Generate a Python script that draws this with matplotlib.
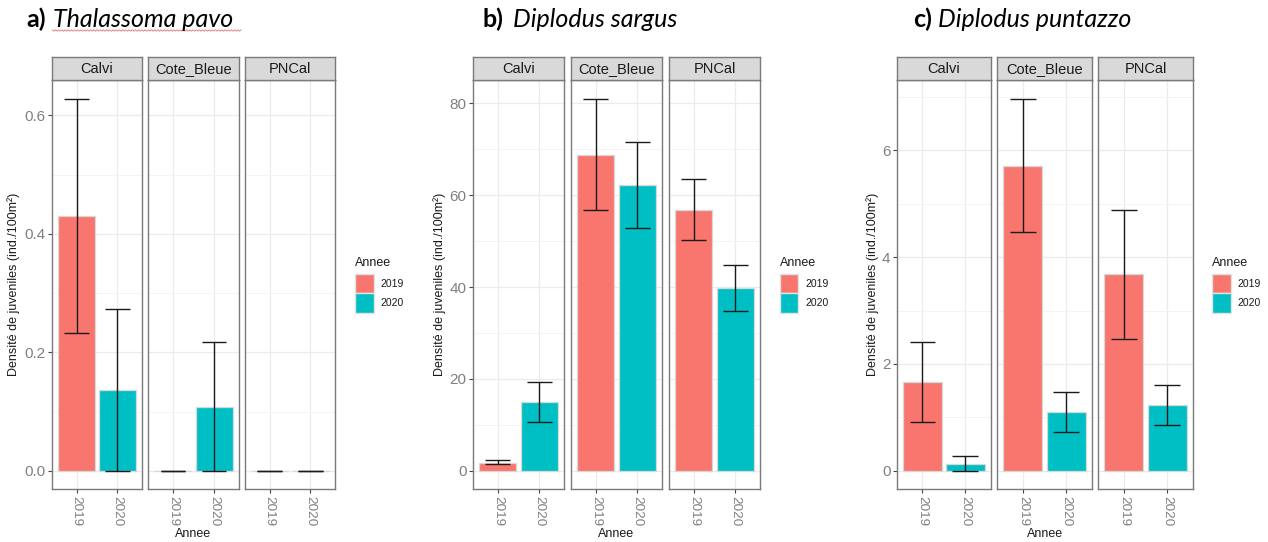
import numpy as np
import matplotlib
matplotlib.use("Agg")
import matplotlib.pyplot as plt
from matplotlib.patches import Rectangle

W, H, DPI = 1268, 542, 100

sites = ["Calvi", "Cote_Bleue", "PNCal"]
years = ["2019", "2020"]
year_colors = ["#F8766D", "#00BFC4"]

# Mean juvenile density (rows: site, columns: year) and error bar bounds
pavo_mean = [[0.430, 0.136], [0.0, 0.108], [0.0, 0.0]]
pavo_lo = [[0.233, 0.0], [0.0, 0.0], [0.0, 0.0]]
pavo_hi = [[0.628, 0.273], [0.0, 0.217], [0.0, 0.0]]

sargus_mean = [[1.7, 15.0], [68.8, 62.2], [56.8, 39.85]]
sargus_lo = [[1.36, 10.7], [56.7, 52.9], [50.2, 34.9]]
sargus_hi = [[2.26, 19.3], [81.0, 71.5], [63.5, 44.75]]

puntazzo_mean = [[1.666, 0.13], [5.71, 1.10], [3.678, 1.232]]
puntazzo_lo = [[0.92, 0.0], [4.475, 0.726], [2.471, 0.856]]
puntazzo_hi = [[2.405, 0.284], [6.966, 1.479], [4.884, 1.601]]

pavo_ticks = [0.0, 0.2, 0.4, 0.6]
pavo_ticklabels = ["0.0", "0.2", "0.4", "0.6"]
pavo_minor = [0.1, 0.3, 0.5]
sargus_ticks = [0, 20, 40, 60, 80]
sargus_ticklabels = ["0", "20", "40", "60", "80"]
sargus_minor = [10, 30, 50, 70]
puntazzo_ticks = [0, 2, 4, 6]
puntazzo_ticklabels = ["0", "2", "4", "6"]
puntazzo_minor = [1, 3, 5, 7]

panels = [
    dict(tag="a)", name="Thalassoma pavo", mean=pavo_mean, lo=pavo_lo, hi=pavo_hi,
         ticks=pavo_ticks, ticklabels=pavo_ticklabels, minor=pavo_minor,
         facets=[(52, 142), (148.3, 238.7), (245, 335)],
         tag_x=26, name_x=53.3, ylab_x=13.3, leg_x=355, squiggle=True),
    dict(tag="b)", name="Diplodus sargus", mean=sargus_mean, lo=sargus_lo, hi=sargus_hi,
         ticks=sargus_ticks, ticklabels=sargus_ticklabels, minor=sargus_minor,
         facets=[(473, 564), (571, 662), (669, 760)],
         tag_x=483, name_x=512.7, ylab_x=440, leg_x=780, squiggle=False),
    dict(tag="c)", name="Diplodus puntazzo", mean=puntazzo_mean, lo=puntazzo_lo, hi=puntazzo_hi,
         ticks=puntazzo_ticks, ticklabels=puntazzo_ticklabels, minor=puntazzo_minor,
         facets=[(896.7, 991), (997, 1092), (1098, 1193)],
         tag_x=913, name_x=938.3, ylab_x=873, leg_x=1212.3, squiggle=False),
]

plt.rcParams["font.family"] = ["Liberation Sans", "DejaVu Sans"]

fig = plt.figure(figsize=(W / DPI, H / DPI), dpi=DPI)
fig.patch.set_facecolor("white")


def box(x0, y0, x1, y1):
    return [x0 / W, 1 - y1 / H, (x1 - x0) / W, (y1 - y0) / H]


def fx(x):
    return x / W


def fy(y):
    return 1 - y / H


STRIP_TOP, PANEL_TOP, PANEL_BOTTOM = 56.7, 80.3, 489.3
BORDER = "#7a7a7a"
xpos = np.arange(len(years))

for p in panels:
    ymax = max(max(r) for r in p["hi"])
    ylim = (-0.05 * ymax, 1.05 * ymax)
    for i, (x0, x1) in enumerate(p["facets"]):
        ax = fig.add_axes(box(x0, PANEL_TOP, x1, PANEL_BOTTOM))
        ax.set_xlim(-0.6, 1.6)
        ax.set_ylim(*ylim)
        ax.set_axisbelow(True)
        ax.set_yticks(p["ticks"])
        ax.set_yticks(p["minor"], minor=True)
        ax.grid(which="major", color="#EBEBEB", lw=0.9)
        ax.grid(which="minor", axis="y", color="#F3F3F3", lw=0.6)
        ax.bar(xpos, p["mean"][i], width=0.9, color=year_colors,
               edgecolor="#D8D8D8", lw=0.9, zorder=2)
        lo, hi = p["lo"][i], p["hi"][i]
        ax.vlines(xpos, lo, hi, color="#1a1a1a", lw=1.0, zorder=3)
        ax.hlines(lo, xpos - 0.3, xpos + 0.3, color="#1a1a1a", lw=1.0, zorder=3)
        ax.hlines(hi, xpos - 0.3, xpos + 0.3, color="#1a1a1a", lw=1.0, zorder=3)
        ax.set_xticks(xpos)
        ax.set_xticklabels(years, rotation=270, fontsize=9.7, color="#808080")
        ax.tick_params(axis="x", length=3, width=0.8, color="#444444", pad=2)
        ax.tick_params(which="minor", length=0)
        if i == 0:
            ax.set_yticklabels(p["ticklabels"], fontsize=11, color="#808080")
            ax.tick_params(axis="y", length=3, width=0.8, color="#444444", pad=1.5)
        else:
            ax.tick_params(axis="y", which="both", length=0, labelleft=False)
        for s in ax.spines.values():
            s.set_color(BORDER)
            s.set_linewidth(1.0)

        sax = fig.add_axes(box(x0, STRIP_TOP, x1, PANEL_TOP))
        sax.set_facecolor("#D9D9D9")
        sax.set_xticks([])
        sax.set_yticks([])
        for s in sax.spines.values():
            s.set_color(BORDER)
            s.set_linewidth(1.0)
        sax.text(0.5, 0.47, sites[i], ha="center", va="center",
                 fontsize=10.5, color="#1a1a1a", transform=sax.transAxes)

    gx0, gx1 = p["facets"][0][0], p["facets"][-1][1]
    fig.text(fx((gx0 + gx1) / 2), fy(534), "Annee", ha="center", va="center",
             fontsize=9, color="#1a1a1a")
    fig.text(fx(p["ylab_x"]), fy((PANEL_TOP + PANEL_BOTTOM) / 2),
             "Densité de juveniles (ind./100m²)", rotation=90,
             ha="center", va="center", fontsize=9, color="#1a1a1a")

    # legend
    lx = p["leg_x"]
    fig.text(fx(lx), fy(262.7), "Annee", ha="left", va="center",
             fontsize=9, color="#1a1a1a")
    for k, (yt, yb) in enumerate([(274.3, 293.3), (293.3, 312.7)]):
        fig.add_artist(Rectangle((fx(lx), fy(yb)), 18.5 / W, (yb - yt) / H,
                                 transform=fig.transFigure,
                                 facecolor=year_colors[k], edgecolor="#E2E2E2",
                                 lw=1.0))
        fig.text(fx(lx + 25), fy((yt + yb) / 2), years[k], ha="left",
                 va="center", fontsize=7.5, color="#1a1a1a")

    # heading: bold tag followed by the italic species name
    fig.text(fx(p["tag_x"]), fy(27), p["tag"], ha="left", va="baseline",
             fontsize=18, fontweight="bold", family=["Lato", "DejaVu Sans"],
             color="black")
    fig.text(fx(p["name_x"]), fy(27), p["name"], ha="left", va="baseline",
             fontsize=18, fontstyle="italic", family=["Lato", "DejaVu Sans"],
             color="black")
    if p["squiggle"]:
        sx = np.arange(p["name_x"] - 1, 241.5, 1.6)
        sy = 30.5 + np.where(np.arange(len(sx)) % 2 == 0, -0.7, 0.7)
        fig.add_artist(plt.Line2D(fx(sx), fy(sy), transform=fig.transFigure,
                                  color="#E57373", lw=0.6))

fig.savefig("out.png", dpi=DPI, facecolor="white")
